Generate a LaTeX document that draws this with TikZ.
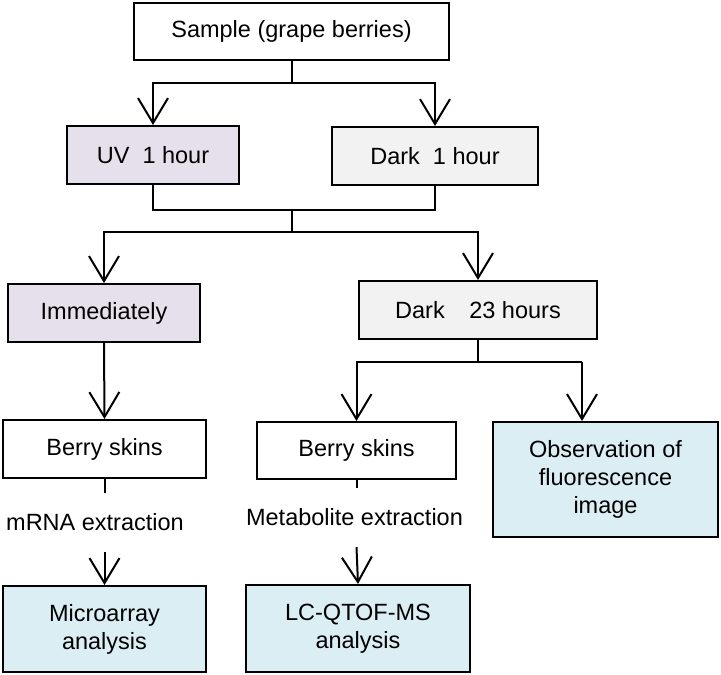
\documentclass[tikz,border=0pt]{standalone}
\usepackage{fontspec}
\setmainfont{Liberation Sans}
\usetikzlibrary{arrows.meta,positioning,calc}
\definecolor{uvpurple}{HTML}{E6E0EC}
\definecolor{darkgray}{HTML}{F2F2F2}
\definecolor{resultblue}{HTML}{DBEEF4}

\begin{document}
\begin{tikzpicture}[x=1pt,y=-1pt,
  box/.style={draw,line width=2pt,inner sep=0pt,align=center,
    font=\fontsize{23.5}{28}\selectfont},
  arr/.style={line width=2pt,-{Straight Barb[length=25pt,width=30pt,line width=2pt]}},
  lnk/.style={line width=2pt},
  note/.style={inner sep=0pt,minimum height=59pt,font=\fontsize{23.5}{28}\selectfont}]
  \useasboundingbox (0,0) rectangle (721,675);
  \node[box,minimum width=315pt,minimum height=57pt] (sample) at (291.5,31.5) {Sample (grape berries)};
  \node[box,fill=uvpurple,minimum width=172pt,minimum height=58pt] (uv) at (153,155) {UV\ \ 1 hour};
  \node[box,fill=darkgray,minimum width=206pt,minimum height=58pt] (dark1) at (435,156) {Dark\ \ 1 hour};
  \node[box,fill=uvpurple,minimum width=192pt,minimum height=58pt] (immed) at (104,313) {Immediately};
  \node[box,fill=darkgray,minimum width=238pt,minimum height=58pt] (dark23) at (478,310) {Dark\hspace{18pt} 23 hours};
  \node[box,minimum width=203pt,minimum height=58pt] (skins1) at (104.5,449) {Berry skins};
  \node[box,minimum width=199pt,minimum height=57pt] (skins2) at (356.5,450.5) {Berry skins};
  \node[box,fill=resultblue,minimum width=225pt,minimum height=115pt] (obs) at (605.5,479.5) {Observation of\\fluorescence\\image};
  \node[note] (mrna) at (95,522.5) {mRNA extraction};
  \node[note] (metab) at (354.5,517.5) {Metabolite extraction};
  \node[box,fill=resultblue,minimum width=203pt,minimum height=86pt] (micro) at (104.5,629) {Microarray\\analysis};
  \node[box,fill=resultblue,minimum width=224pt,minimum height=87pt] (lcms) at (358,628.5) {LC-QTOF-MS\\analysis};

  \coordinate (j1) at (291.5,83);
  \draw[lnk] (sample.south) -- (j1);
  \draw[arr] (j1) -| (uv.north);
  \draw[arr] (j1) -| (dark1.north);

  \coordinate (j2) at (292,210);
  \coordinate (j3) at (292,232);
  \draw[lnk] (uv.south) |- (j2) -| (dark1.south);
  \draw[lnk] (j2) -- (j3);
  \draw[arr] (j3) -| (immed.north);
  \draw[arr] (j3) -| (dark23.north);

  \coordinate (j4) at (478,362);
  \coordinate (j5) at (582,362);
  \draw[lnk] (dark23.south) -- (j4);
  \draw[arr] (j4) -| (skins2.north);
  \draw[lnk] (j4) -- (j5);
  \draw[arr] (j5) -- (j5 |- obs.north);

  \draw[arr] (immed.south) -- (skins1.north);
  \draw[lnk] (skins1.south) -- (skins1.south |- mrna.north);
  \draw[arr] (skins1.south |- mrna.south) -- (micro.north);
  \draw[lnk] (skins2.south) -- (skins2.south |- metab.north);
  \draw[arr] (skins2.south |- metab.south) -- (lcms.north);
\end{tikzpicture}
\end{document}
